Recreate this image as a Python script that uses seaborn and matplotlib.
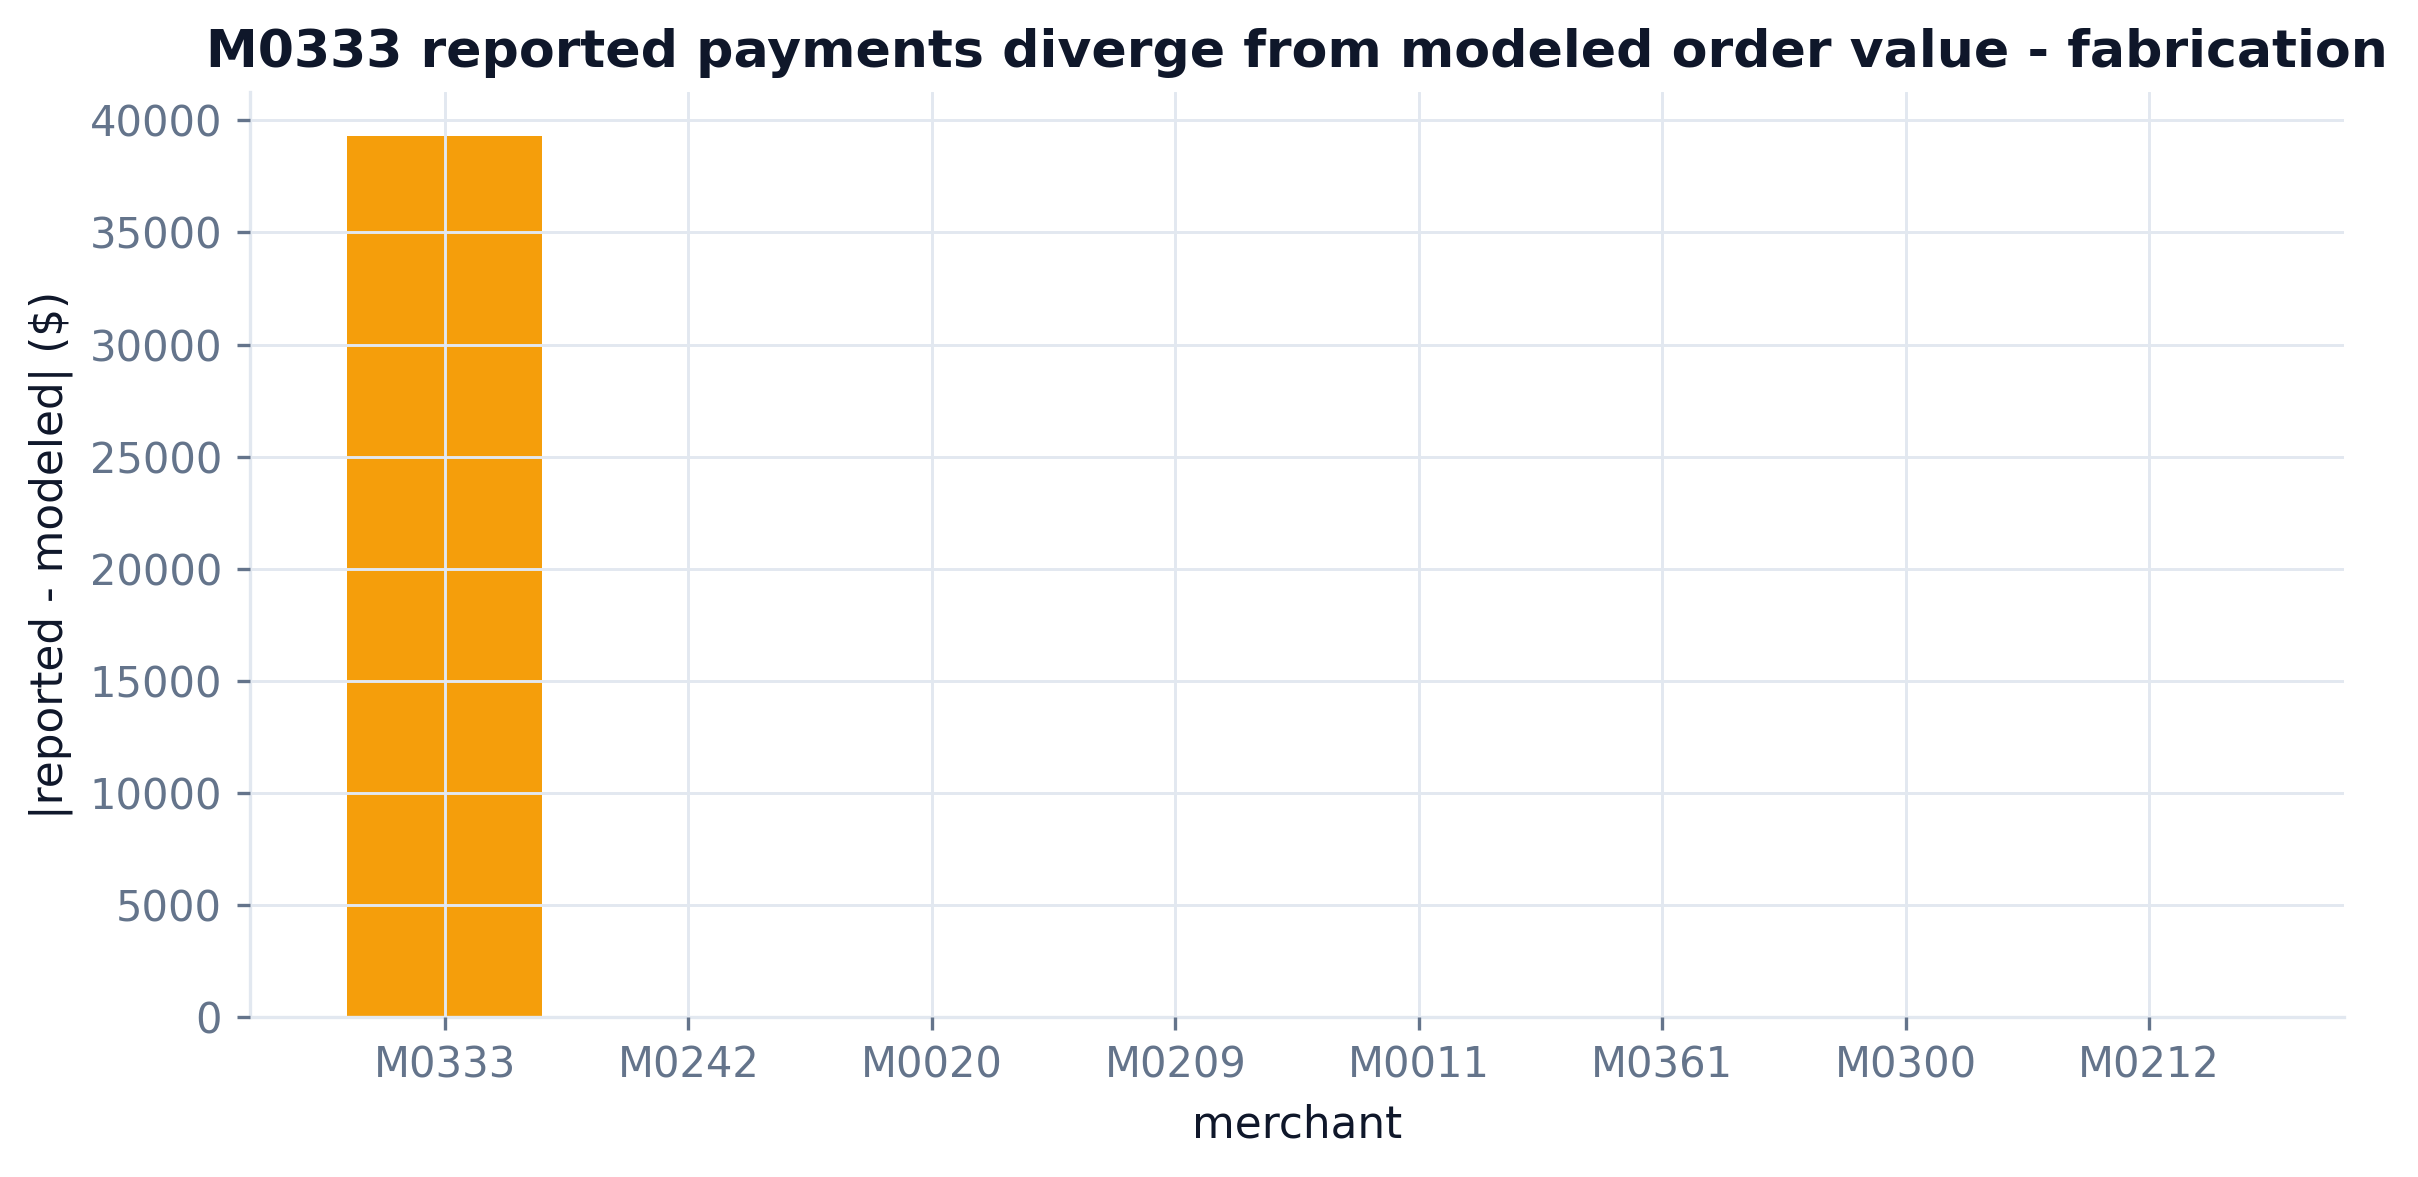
import pandas as pd
import seaborn as sns
import matplotlib.pyplot as plt

# --- data ---
merchants = ['M0333', 'M0242', 'M0020', 'M0209', 'M0011', 'M0361', 'M0300', 'M0212']
abs_gap = [39300, 0, 0, 0, 0, 0, 0, 0]

df = pd.DataFrame({'merchant': merchants, 'gap': abs_gap})

sns.set_theme(style='whitegrid')
plt.rcParams['font.family'] = ['DejaVu Sans']

grid_c = '#e2e8f0'
tick_c = '#64748b'
text_c = '#0f172a'

fig, ax = plt.subplots(figsize=(2418 / 300, 1177 / 300), dpi=300)
fig.subplots_adjust(left=0.1034, right=0.9694, top=0.9218, bottom=0.136)

sns.barplot(data=df, x='merchant', y='gap', color='#f59e0b', saturation=1,
            width=0.8, linewidth=0, ax=ax, zorder=1)

ax.set_xlim(-0.8, 7.8)
ax.set_axisbelow(False)
ax.grid(True, color=grid_c, linewidth=0.7, zorder=2)

for side in ['top', 'right']:
    ax.spines[side].set_visible(False)
for side in ['left', 'bottom']:
    ax.spines[side].set_color(grid_c)
    ax.spines[side].set_linewidth(0.8)

ax.tick_params(axis='both', colors=tick_c, labelsize=10, length=3.2, width=0.8,
               left=True, bottom=True)
ax.set_xlabel('merchant', fontsize=10.5, color=text_c)
ax.set_ylabel('|reported - modeled| ($)', fontsize=10.5, color=text_c)
ax.set_title('M0333 reported payments diverge from modeled order value - fabrication',
             fontsize=12.5, fontweight='bold', color=text_c)

fig.savefig('out.png', dpi=300, facecolor='white')
